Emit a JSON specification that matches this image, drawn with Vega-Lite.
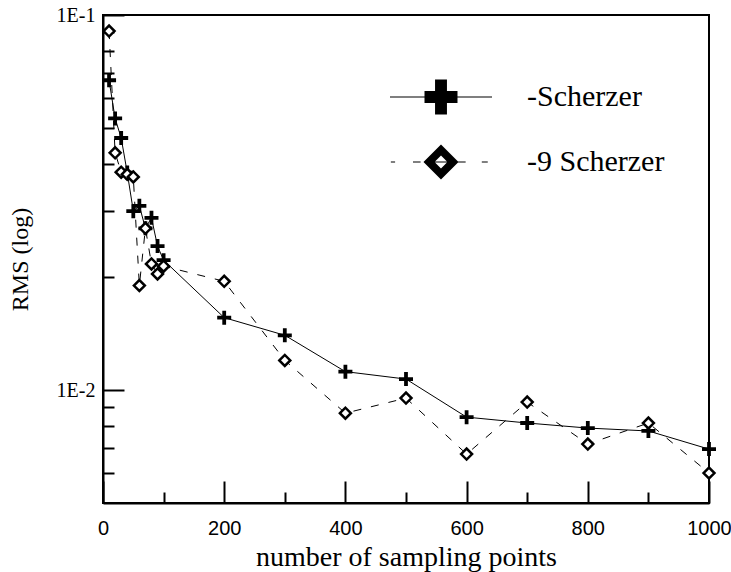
{
  "$schema": "https://vega.github.io/schema/vega-lite/v6.json",
  "width": 606,
  "height": 488,
  "autosize": "none",
  "padding": {"left": 103, "top": 15, "right": 22, "bottom": 69},
  "background": "white",
  "config": {
    "font": "Liberation Serif",
    "view": {"stroke": "black", "strokeWidth": 2}
  },
  "data": {
    "values": [
      {"n": 10, "rms": 0.067, "series": "-Scherzer"},
      {"n": 20, "rms": 0.053, "series": "-Scherzer"},
      {"n": 30, "rms": 0.047, "series": "-Scherzer"},
      {"n": 40, "rms": 0.038, "series": "-Scherzer"},
      {"n": 50, "rms": 0.030, "series": "-Scherzer"},
      {"n": 60, "rms": 0.031, "series": "-Scherzer"},
      {"n": 70, "rms": 0.027, "series": "-Scherzer"},
      {"n": 80, "rms": 0.0288, "series": "-Scherzer"},
      {"n": 90, "rms": 0.0242, "series": "-Scherzer"},
      {"n": 100, "rms": 0.0222, "series": "-Scherzer"},
      {"n": 200, "rms": 0.0156, "series": "-Scherzer"},
      {"n": 300, "rms": 0.0140, "series": "-Scherzer"},
      {"n": 400, "rms": 0.0112, "series": "-Scherzer"},
      {"n": 500, "rms": 0.0107, "series": "-Scherzer"},
      {"n": 600, "rms": 0.00847, "series": "-Scherzer"},
      {"n": 700, "rms": 0.00817, "series": "-Scherzer"},
      {"n": 800, "rms": 0.00792, "series": "-Scherzer"},
      {"n": 900, "rms": 0.00778, "series": "-Scherzer"},
      {"n": 1000, "rms": 0.00696, "series": "-Scherzer"},
      {"n": 10, "rms": 0.0906, "series": "-9 Scherzer"},
      {"n": 20, "rms": 0.0429, "series": "-9 Scherzer"},
      {"n": 30, "rms": 0.0381, "series": "-9 Scherzer"},
      {"n": 40, "rms": 0.0376, "series": "-9 Scherzer"},
      {"n": 50, "rms": 0.0370, "series": "-9 Scherzer"},
      {"n": 60, "rms": 0.0190, "series": "-9 Scherzer"},
      {"n": 70, "rms": 0.027, "series": "-9 Scherzer"},
      {"n": 80, "rms": 0.0217, "series": "-9 Scherzer"},
      {"n": 90, "rms": 0.0204, "series": "-9 Scherzer"},
      {"n": 100, "rms": 0.0214, "series": "-9 Scherzer"},
      {"n": 200, "rms": 0.0195, "series": "-9 Scherzer"},
      {"n": 300, "rms": 0.0120, "series": "-9 Scherzer"},
      {"n": 400, "rms": 0.00868, "series": "-9 Scherzer"},
      {"n": 500, "rms": 0.00952, "series": "-9 Scherzer"},
      {"n": 600, "rms": 0.00675, "series": "-9 Scherzer"},
      {"n": 700, "rms": 0.00929, "series": "-9 Scherzer"},
      {"n": 800, "rms": 0.00718, "series": "-9 Scherzer"},
      {"n": 900, "rms": 0.00817, "series": "-9 Scherzer"},
      {"n": 1000, "rms": 0.00601, "series": "-9 Scherzer"}
    ]
  },
  "encoding": {
    "x": {
      "field": "n", "type": "quantitative",
      "scale": {"domain": [0, 1000], "nice": false, "zero": false},
      "axis": {
        "title": "number of sampling points",
        "titleFont": "Liberation Serif", "titleFontSize": 28, "titleFontWeight": "normal", "titleColor": "black",
        "titlePadding": -6,
        "values": [0, 100, 200, 300, 400, 500, 600, 700, 800, 900, 1000],
        "format": "d",
        "labelExpr": "datum.value % 200 === 0 ? datum.label : ''",
        "labelFont": "Liberation Sans", "labelFontSize": 20, "labelColor": "black",
        "labelPadding": 37,
        "tickSize": {"condition": {"test": "datum.value % 200 === 0", "value": -22}, "value": -11},
        "tickColor": "black", "tickWidth": 2,
        "domainColor": "black", "domainWidth": 2,
        "grid": false, "labelFlush": false, "labelOverlap": false
      }
    },
    "y": {
      "field": "rms", "type": "quantitative",
      "scale": {"type": "log", "domain": [0.005, 0.1], "nice": false},
      "axis": {
        "title": "RMS (log)",
        "titleFont": "Liberation Serif", "titleFontSize": 24, "titleFontWeight": "normal", "titleColor": "black",
        "titlePadding": 24,
        "values": [0.006, 0.007, 0.008, 0.009, 0.01, 0.02, 0.03, 0.04, 0.05, 0.06, 0.07, 0.08, 0.09, 0.1],
        "labelExpr": "datum.value == 0.1 ? '1E-1' : (datum.value == 0.01 ? '1E-2' : '')",
        "labelFont": "Liberation Serif", "labelFontSize": 20, "labelColor": "black",
        "labelPadding": 29,
        "tickSize": {"condition": {"test": "datum.value == 0.1 || datum.value == 0.01", "value": -21}, "value": -11},
        "tickColor": "black", "tickWidth": 2,
        "domainColor": "black", "domainWidth": 2,
        "grid": false, "labelFlush": false, "labelOverlap": false
      }
    }
  },
  "layer": [
    {
      "transform": [{"filter": "datum.series === '-Scherzer'"}],
      "mark": {"type": "line", "color": "black", "strokeWidth": 1}
    },
    {
      "transform": [{"filter": "datum.series === '-9 Scherzer'"}],
      "mark": {"type": "line", "color": "black", "strokeWidth": 1, "strokeDash": [8, 10]}
    },
    {
      "transform": [{"filter": "datum.series === '-Scherzer'"}],
      "mark": {
        "type": "point", "filled": true, "color": "black", "opacity": 1, "size": 196,
        "shape": "M-1,-0.27H-0.27V-1H0.27V-0.27H1V0.27H0.27V1H-0.27V0.27H-1Z"
      }
    },
    {
      "transform": [{"filter": "datum.series === '-9 Scherzer'"}],
      "mark": {
        "type": "point", "filled": false, "fill": "white", "stroke": "black", "strokeWidth": 2.5,
        "opacity": 1, "size": 120, "shape": "diamond"
      }
    },
    {
      "mark": {"type": "point", "filled": true, "color": "black", "opacity": 0, "size": 1156},
      "encoding": {
        "shape": {
          "field": "series", "type": "nominal",
          "scale": {
            "domain": ["-Scherzer", "-9 Scherzer"],
            "range": [
              "M-3,-0.03H-0.97V-0.35H-0.35V-1.03H0.35V-0.35H0.97V-0.03H3V0.03H0.97V0.35H0.35V1.03H-0.35V0.35H-0.97V0.03H-3Z",
              "M-2.95,-0.03H-2.7V0.03H-2.95ZM-1.65,-0.03H-1.2V0.03H-1.65ZM1.0,-0.03H1.45V0.03H1.0ZM2.4,-0.03H2.75V0.03H2.4ZM0,-1.03L1.03,0L0,1.03L-1.03,0ZM0,-0.38L-0.38,0L0,0.38L0.38,0ZM-0.38,-0.03H0.38V0.03H-0.38Z"
            ]
          },
          "legend": {
            "title": null,
            "orient": "none",
            "legendX": 321,
            "legendY": 65,
            "padding": 0,
            "rowPadding": 29,
            "symbolSize": 1156,
            "symbolOpacity": 1,
            "symbolFillColor": "black",
            "symbolStrokeColor": "black",
            "symbolStrokeWidth": 0,
            "labelOffset": 69,
            "labelFont": "Liberation Serif",
            "labelFontSize": 30,
            "labelColor": "black",
            "labelLimit": 0
          }
        }
      }
    }
  ]
}
